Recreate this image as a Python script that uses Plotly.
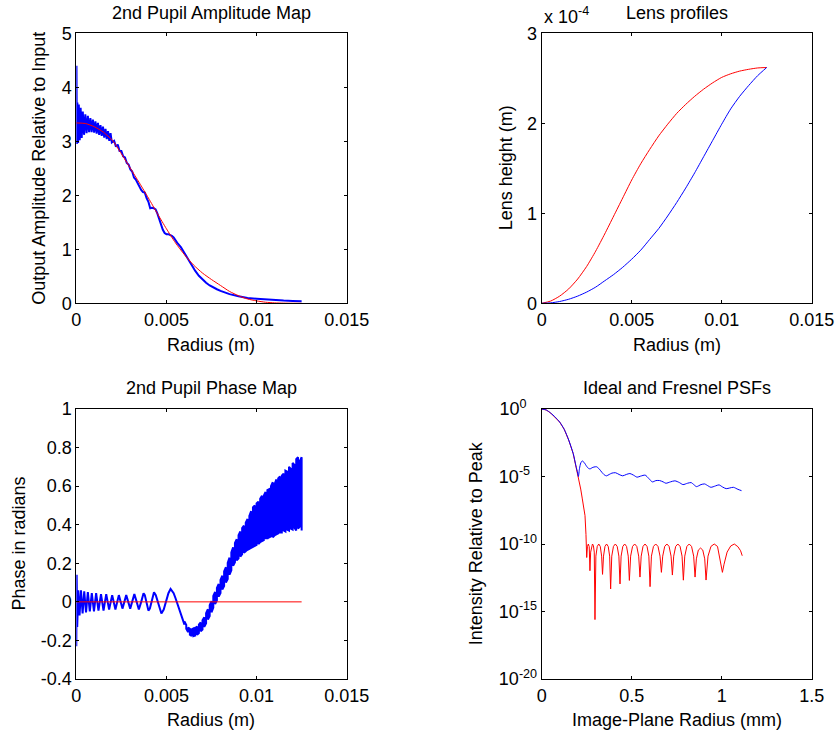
import plotly.graph_objects as go

# ---------------- data: 2nd pupil amplitude map ----------------
amp_ideal_r = [0.0, 0.0005, 0.001, 0.0015, 0.002, 0.0025, 0.003, 0.0035, 0.004, 0.0045,
               0.005, 0.0055, 0.006, 0.0065, 0.007, 0.0075, 0.008, 0.0085, 0.009, 0.0095,
               0.01, 0.0105, 0.011, 0.0115, 0.012, 0.0125]
amp_ideal = [3.34, 3.33, 3.27, 3.17, 3.02, 2.77, 2.50, 2.23, 1.95, 1.66,
             1.38, 1.12, 0.90, 0.71, 0.56, 0.44, 0.33, 0.22, 0.14, 0.08,
             0.045, 0.02, 0.008, 0.003, 0.001, 0.0]

amp_fresnel_r = [0.0, 0.00001, 0.00003, 0.00006, 0.0001, 0.00014, 0.00019, 0.00024, 0.0003, 0.00036,
                 0.00043, 0.0005, 0.00057, 0.00064, 0.00071, 0.00078, 0.00085, 0.00092, 0.00099, 0.00106,
                 0.00113, 0.0012, 0.00127, 0.00134, 0.00141, 0.00148, 0.00155, 0.00162, 0.00169, 0.00176,
                 0.00183, 0.0019, 0.00197,
                 0.0021, 0.0022, 0.0023, 0.0024, 0.0025, 0.0026, 0.0027, 0.0028, 0.0029, 0.003,
                 0.0031, 0.0032, 0.0033, 0.0034, 0.0035, 0.0036, 0.0037, 0.0038, 0.0039, 0.004,
                 0.0041, 0.0042, 0.0043, 0.0044, 0.0045, 0.0046, 0.0047, 0.0048, 0.0049, 0.005,
                 0.0051, 0.0052, 0.0053, 0.0054, 0.0055, 0.0056,
                 0.0058, 0.006, 0.0062, 0.0064, 0.0066, 0.0068, 0.007, 0.0072, 0.0074, 0.0076, 0.0078, 0.008,
                 0.0085, 0.009, 0.0095, 0.01, 0.0105, 0.011, 0.0115, 0.012, 0.0125]
amp_fresnel = [3.0, 4.4, 2.95, 3.72, 2.97, 3.68, 3.02, 3.62, 3.06, 3.55,
               3.12, 3.5, 3.15, 3.47, 3.17, 3.43, 3.17, 3.4, 3.16, 3.37,
               3.14, 3.34, 3.12, 3.3, 3.1, 3.27, 3.07, 3.23, 3.04, 3.19,
               3.01, 3.15, 2.98,
               3.01, 2.90, 2.94, 2.82, 2.82, 2.72, 2.70, 2.60, 2.57, 2.48,
               2.44, 2.33, 2.29, 2.22, 2.18, 2.10, 2.06, 2.05, 1.95, 1.88,
               1.76, 1.77, 1.76, 1.74, 1.66, 1.55, 1.45, 1.36, 1.30, 1.28,
               1.28, 1.27, 1.25, 1.22, 1.16, 1.12,
               1.04, 0.93, 0.82, 0.70, 0.60, 0.51, 0.44, 0.38, 0.33, 0.29, 0.26, 0.23,
               0.17, 0.13, 0.10, 0.085, 0.07, 0.06, 0.05, 0.043, 0.037]

# ---------------- data: lens profiles (m) ----------------
lens_r = [0.0, 0.0005, 0.001, 0.0015, 0.002, 0.0025, 0.003, 0.0035, 0.004, 0.0045,
          0.005, 0.0055, 0.006, 0.0065, 0.007, 0.0075, 0.008, 0.0085, 0.009, 0.0095,
          0.01, 0.0105, 0.011, 0.0115, 0.012, 0.0125]
lens_first = [0.0, 0.025e-4, 0.08e-4, 0.16e-4, 0.27e-4, 0.41e-4, 0.58e-4, 0.77e-4, 0.97e-4, 1.17e-4,
              1.37e-4, 1.55e-4, 1.71e-4, 1.86e-4, 1.99e-4, 2.11e-4, 2.21e-4, 2.30e-4, 2.38e-4, 2.45e-4,
              2.51e-4, 2.55e-4, 2.58e-4, 2.60e-4, 2.615e-4, 2.62e-4]
lens_second = [0.0, 0.005e-4, 0.02e-4, 0.045e-4, 0.08e-4, 0.125e-4, 0.18e-4, 0.25e-4, 0.32e-4, 0.40e-4,
               0.49e-4, 0.59e-4, 0.71e-4, 0.83e-4, 0.97e-4, 1.12e-4, 1.28e-4, 1.45e-4, 1.63e-4, 1.81e-4,
               1.99e-4, 2.16e-4, 2.30e-4, 2.42e-4, 2.53e-4, 2.62e-4]

# ---------------- data: 2nd pupil phase map ----------------
phase_ideal_r = [0.0, 0.0125]
phase_ideal = [0.0, 0.0]

phase_ripple_r = [0.0, 0.00002, 0.00005, 0.00011, 0.00018, 0.00026, 0.00035, 0.00044, 0.00054, 0.00064,
                  0.00075, 0.00086, 0.00098, 0.0011, 0.00123, 0.00137, 0.00151, 0.00166, 0.00182, 0.00199,
                  0.00217, 0.00236, 0.00256, 0.00277, 0.00299, 0.00311, 0.00322, 0.00335, 0.00347, 0.0036,
                  0.00373, 0.0038, 0.00387, 0.00394, 0.004, 0.00408, 0.00416, 0.00424, 0.00431, 0.00441,
                  0.00452, 0.00462, 0.00472, 0.00485, 0.00498, 0.00511, 0.00523, 0.0054, 0.0055, 0.00557,
                  0.0057, 0.0058, 0.0059]
phase_ripple = [-0.23, 0.14, -0.13, 0.06, -0.07, 0.06, -0.06, 0.055, -0.055, 0.05,
                -0.05, 0.045, -0.05, 0.045, -0.045, 0.04, -0.045, 0.04, -0.04, 0.035,
                -0.04, 0.035, -0.035, 0.035, -0.035, 0.0, 0.04, 0.0, -0.04, 0.0,
                0.045, 0.035, 0.0, -0.035, -0.045, -0.035, 0.0, 0.035, 0.05, 0.035,
                0.0, -0.04, -0.06, -0.04, 0.0, 0.045, 0.067, 0.045, 0.02, 0.0,
                -0.035, -0.06, -0.085]

phase_band_r = [0.0060, 0.0061, 0.0062, 0.0063, 0.0064, 0.0065, 0.0066, 0.0067, 0.0068, 0.0069,
                0.0070, 0.0071, 0.0072, 0.0073, 0.0074, 0.0075, 0.0076, 0.0077, 0.0078, 0.0079,
                0.0080, 0.0081, 0.0082, 0.0083, 0.0084, 0.0085, 0.0086, 0.0087, 0.0088, 0.0089,
                0.0090, 0.0091, 0.0092, 0.0093, 0.0094, 0.0095, 0.0096, 0.0097, 0.0098, 0.0099,
                0.0100, 0.0101, 0.0102, 0.0103, 0.0104, 0.0105, 0.0106, 0.0107, 0.0108, 0.0109,
                0.0110, 0.0111, 0.0112, 0.0113, 0.0114, 0.0115, 0.0116, 0.0117, 0.0118, 0.0119,
                0.0120, 0.0121, 0.0122, 0.0123, 0.0124, 0.0125]
phase_band_low = [-0.118, -0.140, -0.157, -0.170, -0.177, -0.178, -0.175, -0.171, -0.162, -0.153,
                  -0.144, -0.130, -0.111, -0.092, -0.073, -0.054, -0.030, -0.011, 0.008, 0.027,
                  0.046, 0.064, 0.082, 0.100, 0.118, 0.141, 0.164, 0.187, 0.205, 0.215,
                  0.225, 0.235, 0.247, 0.255, 0.262, 0.270, 0.275, 0.280, 0.285, 0.290,
                  0.295, 0.300, 0.310, 0.315, 0.320, 0.330, 0.330, 0.335, 0.340, 0.335,
                  0.345, 0.350, 0.355, 0.360, 0.360, 0.370, 0.365, 0.375, 0.370, 0.380,
                  0.375, 0.385, 0.370, 0.380, 0.390, 0.370]
phase_band_high = [-0.102, -0.120, -0.133, -0.140, -0.143, -0.138, -0.135, -0.128, -0.118, -0.107,
                   -0.096, -0.080, -0.059, -0.038, -0.017, 0.004, 0.030, 0.051, 0.072, 0.093,
                   0.114, 0.136, 0.158, 0.180, 0.202, 0.229, 0.256, 0.283, 0.305, 0.325,
                   0.345, 0.365, 0.383, 0.395, 0.410, 0.430, 0.445, 0.470, 0.490, 0.500,
                   0.510, 0.520, 0.535, 0.550, 0.550, 0.570, 0.580, 0.585, 0.600, 0.620,
                   0.610, 0.635, 0.640, 0.650, 0.655, 0.665, 0.680, 0.675, 0.700, 0.690,
                   0.720, 0.710, 0.740, 0.750, 0.730, 0.750]

# ---------------- data: PSFs (log10 of intensity relative to peak) ----------------
psf_r_ideal = [0.0, 0.025, 0.05, 0.075, 0.1, 0.125, 0.15, 0.175, 0.19, 0.2, 0.21, 0.2167, 0.225, 0.231, 0.2406, 0.246, 0.249,
               0.25, 0.254, 0.259, 0.264,
               0.268, 0.272, 0.277, 0.282, 0.287, 0.292,
               0.296, 0.301, 0.3086, 0.317, 0.3254, 0.333,
               0.338, 0.3434, 0.3515, 0.3605, 0.3695, 0.3776,
               0.383, 0.3892, 0.3986, 0.409, 0.4194, 0.4288,
               0.435, 0.4412, 0.4506, 0.461, 0.4714, 0.4808,
               0.487, 0.4941, 0.5047, 0.5165, 0.5283, 0.5389,
               0.546, 0.5527, 0.5628, 0.574, 0.5852, 0.5953,
               0.602, 0.6096, 0.6209, 0.6335, 0.6461, 0.6574,
               0.665, 0.6723, 0.6833, 0.6955, 0.7077, 0.7187,
               0.726, 0.7333, 0.7443, 0.7565, 0.7687, 0.7797,
               0.787, 0.7948, 0.8065, 0.8195, 0.8325, 0.8442,
               0.852, 0.8593, 0.8703, 0.8825, 0.8947, 0.9057,
               0.913, 0.9239, 0.9403, 0.9585, 0.9767, 0.995,
               1.004, 1.013, 1.03, 1.05, 1.07, 1.09, 1.105, 1.114]
psf_ideal_log10 = [0.0, -0.07, -0.3, -0.6, -0.97, -1.5, -2.3, -3.3, -4.2, -4.75, -5.4, -5.93, -6.6, -7.16, -7.9, -9.3, -10.0,
                   -11.0, -10.2, -10.0, -10.2,
                   -11.98, -10.6, -10.1, -10.0, -10.1, -10.6,
                   -15.6, -10.9, -10.18, -10.0, -10.18, -10.9,
                   -12.25, -10.9, -10.18, -10.0, -10.18, -10.9,
                   -13.33, -10.9, -10.18, -10.0, -10.18, -10.9,
                   -12.96, -10.9, -10.18, -10.0, -10.18, -10.9,
                   -12.7, -10.9, -10.18, -10.0, -10.18, -10.9,
                   -12.45, -10.9, -10.18, -10.0, -10.18, -10.9,
                   -13.16, -10.9, -10.18, -10.0, -10.18, -10.9,
                   -12.1, -10.9, -10.18, -10.0, -10.18, -10.9,
                   -12.3, -10.9, -10.18, -10.0, -10.18, -10.9,
                   -12.68, -10.9, -10.18, -10.0, -10.18, -10.9,
                   -12.45, -11.1, -10.45, -10.3, -10.45, -11.1,
                   -12.67, -10.9, -10.18, -10.0, -10.18, -11.5,
                   -12.1, -11.5, -10.6, -10.15, -10.0, -10.2, -10.5, -10.87]

psf_r_fresnel = [0.0, 0.025, 0.05, 0.075, 0.1, 0.125, 0.15, 0.175, 0.19, 0.2,
                 0.204, 0.21, 0.217, 0.225, 0.235, 0.25, 0.262, 0.27, 0.28, 0.29,
                 0.305, 0.32, 0.335, 0.35, 0.36, 0.375, 0.39, 0.41, 0.43, 0.45,
                 0.47, 0.49, 0.51, 0.53, 0.55, 0.575, 0.595, 0.615, 0.635, 0.655,
                 0.675, 0.69, 0.715, 0.74, 0.765, 0.785, 0.81, 0.83, 0.845, 0.86,
                 0.885, 0.905, 0.925, 0.94, 0.965, 0.985, 1.005, 1.025, 1.045, 1.065,
                 1.09, 1.11]
psf_fresnel_log10 = [0.0, -0.07, -0.3, -0.6, -0.97, -1.5, -2.3, -3.3, -4.2, -4.75,
                     -5.0, -4.4, -4.0, -3.85, -3.95, -4.25, -4.42, -4.43, -4.35, -4.3,
                     -4.28, -4.45, -4.7, -4.9, -4.95, -4.85, -4.75, -4.72, -4.85, -4.95,
                     -4.85, -4.78, -4.9, -5.05, -4.97, -4.9, -5.15, -5.4, -5.3, -5.3,
                     -5.4, -5.5, -5.4, -5.32, -5.45, -5.6, -5.5, -5.45, -5.6, -5.75,
                     -5.6, -5.55, -5.7, -5.8, -5.7, -5.62, -5.78, -5.9, -5.85, -5.8,
                     -5.95, -6.05]

# ---------------- tick labels ----------------
radius_ticks = [0, 0.005, 0.01, 0.015]
radius_ticktext = ["0", "0.005", "0.01", "0.015"]
amp_ticks = [0, 1, 2, 3, 4, 5]
lens_ticks = [0, 1e-4, 2e-4, 3e-4]
lens_ticktext = ["0", "1", "2", "3"]
phase_ticks = [-0.4, -0.2, 0, 0.2, 0.4, 0.6, 0.8, 1.0]
phase_ticktext = ["-0.4", "-0.2", "0", "0.2", "0.4", "0.6", "0.8", "1"]
psf_x_ticks = [0, 0.5, 1, 1.5]
psf_x_ticktext = ["0", "0.5", "1", "1.5"]
psf_y_ticks = [1e-20, 1e-15, 1e-10, 1e-5, 1]
NB = "\u00a0"
psf_y_ticktext = ["10<sup>-20</sup>", "10<sup>-15</sup>", "10<sup>-10</sup>",
                  "10<sup>-5" + NB * 2 + "</sup>", "10<sup>0" + NB * 3 + "</sup>"]

# ---------------- layout helpers ----------------
W, H = 835, 732
FONT = "Liberation Sans, Arial, Helvetica, sans-serif"
BLUE = "#0000ff"
RED = "#ff0000"


def fx(p):
    return p / W


def fy(p):
    return 1 - p / H


XL = [fx(76.3), fx(346.7)]
XR = [fx(541.7), fx(811.7)]
YT = [fy(303.3), fy(33.3)]
YB = [fy(679.0), fy(409.0)]

axis_style = dict(showline=True, linecolor="black", linewidth=1, mirror="ticks",
                  ticks="inside", ticklen=3, tickwidth=1, tickcolor="black",
                  showgrid=False, zeroline=False, automargin=False,
                  tickfont=dict(family=FONT, size=18, color="black"))

fig = go.Figure()

# panel 1
fig.add_trace(go.Scatter(x=amp_fresnel_r, y=amp_fresnel, mode="lines",
                         line=dict(color=BLUE, width=2), xaxis="x", yaxis="y"))
fig.add_trace(go.Scatter(x=amp_ideal_r, y=amp_ideal, mode="lines",
                         line=dict(color=RED, width=1, shape="spline", smoothing=0.6), xaxis="x", yaxis="y"))
# panel 2
fig.add_trace(go.Scatter(x=lens_r, y=lens_first, mode="lines",
                         line=dict(color=RED, width=1, shape="spline", smoothing=0.6), xaxis="x2", yaxis="y2"))
fig.add_trace(go.Scatter(x=lens_r, y=lens_second, mode="lines",
                         line=dict(color=BLUE, width=1, shape="spline", smoothing=0.6), xaxis="x2", yaxis="y2"))
# panel 3: ripple then the dense band (drawn as alternating vertical strokes)
band_x, band_y = [], []
for i, r in enumerate(phase_band_r):
    pair = (phase_band_low[i], phase_band_high[i]) if i % 2 == 0 else (phase_band_high[i], phase_band_low[i])
    band_x += [r, r]
    band_y += list(pair)
fig.add_trace(go.Scatter(x=phase_ripple_r + band_x, y=phase_ripple + band_y, mode="lines",
                         line=dict(color=BLUE, width=2), xaxis="x3", yaxis="y3"))
fig.add_trace(go.Scatter(x=phase_ideal_r, y=phase_ideal, mode="lines",
                         line=dict(color=RED, width=1), xaxis="x3", yaxis="y3"))
# panel 4
fig.add_trace(go.Scatter(x=psf_r_ideal, y=[10 ** v for v in psf_ideal_log10], mode="lines",
                         line=dict(color=RED, width=1), xaxis="x4", yaxis="y4"))
fig.add_trace(go.Scatter(x=psf_r_fresnel, y=[10 ** v for v in psf_fresnel_log10], mode="lines",
                         line=dict(color=BLUE, width=1, shape="spline", smoothing=0.7), xaxis="x4", yaxis="y4"))

fig.update_layout(
    width=W, height=H, margin=dict(l=0, r=0, t=0, b=0, pad=0), autosize=False,
    paper_bgcolor="white", plot_bgcolor="white", showlegend=False,
    font=dict(family=FONT, size=18, color="black"),
    xaxis=dict(domain=XL, anchor="y", range=[0, 0.015], tickvals=radius_ticks, ticktext=radius_ticktext, **axis_style),
    yaxis=dict(domain=YT, anchor="x", range=[0, 5], tickvals=amp_ticks, **axis_style),
    xaxis2=dict(domain=XR, anchor="y2", range=[0, 0.015], tickvals=radius_ticks, ticktext=radius_ticktext, **axis_style),
    yaxis2=dict(domain=YT, anchor="x2", range=[0, 3e-4], tickvals=lens_ticks, ticktext=lens_ticktext, **axis_style),
    xaxis3=dict(domain=XL, anchor="y3", range=[0, 0.015], tickvals=radius_ticks, ticktext=radius_ticktext, **axis_style),
    yaxis3=dict(domain=YB, anchor="x3", range=[-0.4, 1.0], tickvals=phase_ticks, ticktext=phase_ticktext, **axis_style),
    xaxis4=dict(domain=XR, anchor="y4", range=[0, 1.5], tickvals=psf_x_ticks, ticktext=psf_x_ticktext, **axis_style),
    yaxis4=dict(domain=YB, anchor="x4", type="log", range=[-20, 0], tickvals=psf_y_ticks, ticktext=psf_y_ticktext, **axis_style),
)

ann = []


def text(x, y, s, angle=0, xanchor="center", yanchor="middle"):
    ann.append(dict(x=fx(x), y=fy(y), xref="paper", yref="paper", text=s, showarrow=False,
                    textangle=angle, xanchor=xanchor, yanchor=yanchor,
                    font=dict(family=FONT, size=18, color="black")))


# titles
text(211.5, 13.5, "2nd Pupil Amplitude Map")
text(676.7, 13.5, "Lens profiles")
text(211.5, 388.5, "2nd Pupil Phase Map")
text(676.7, 388.5, "Ideal and Fresnel PSFs")
# x-axis titles
text(211.5, 344.5, "Radius (m)")
text(676.7, 344.5, "Radius (m)")
text(211.5, 719.5, "Radius (m)")
text(676.7, 719.5, "Image-Plane Radius (mm)")
# y-axis titles
text(39.5, 168.3, "Output Amplitude Relative to Input", angle=-90)
text(506.0, 168.3, "Lens height (m)", angle=-90)
text(18.5, 544.0, "Phase in radians", angle=-90)
text(476.0, 543.3, "Intensity Relative to Peak", angle=-90)
# exponent label
text(541.7, 29.0, "x 10<sup>-4</sup>", xanchor="left", yanchor="bottom")

fig.update_layout(annotations=ann)
fig.write_html("out.html")
